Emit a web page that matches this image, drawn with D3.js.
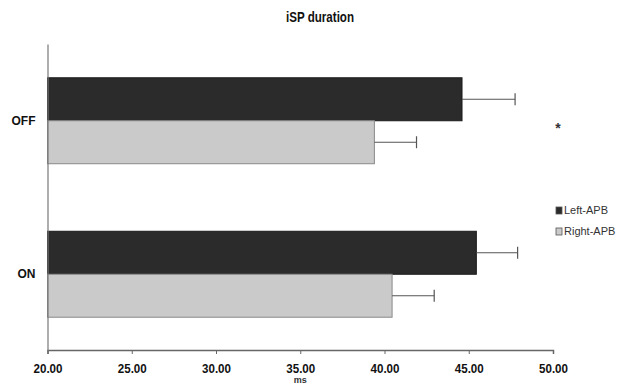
<!DOCTYPE html>
<html>
<head>
<meta charset="utf-8">
<script src="https://cdn.jsdelivr.net/npm/d3@7"></script>
<style>
  body { margin: 0; background: #fff; }
  #chart svg { display: block; }
</style>
</head>
<body>
<div id="chart"></div>
<script>
// data
const conditions = ['OFF', 'ON'];
const seriesNames = ['Left-APB', 'Right-APB'];
const leftMeans = [44.6, 45.45];
const leftErrors = [3.15, 2.45];
const rightMeans = [39.4, 40.45];
const rightErrors = [2.5, 2.5];
const xTicks = [20, 25, 30, 35, 40, 45, 50];

const width = 639;
const height = 384;
const narrow = '"Liberation Sans Narrow", "Arial Narrow", "Liberation Sans", sans-serif';
const colors = { 'Left-APB': '#2b2b2b', 'Right-APB': '#cacaca' };
const strokes = { 'Left-APB': '#1a1a1a', 'Right-APB': '#8a8a8a' };

const rows = [];
conditions.forEach((c, i) => {
    rows.push({ cond: c, series: 'Left-APB', value: leftMeans[i], err: leftErrors[i] });
    rows.push({ cond: c, series: 'Right-APB', value: rightMeans[i], err: rightErrors[i] });
});

const svg = d3.select('#chart')
    .append('svg')
    .attr('width', width)
    .attr('height', height)
    .attr('viewBox', [0, 0, width, height]);

const x = d3.scaleLinear()
    .domain([20, 50])
    .range([47.5, 553]);

const y = d3.scaleBand()
    .domain(conditions)
    .range([44, 351])
    .paddingInner(0.44)
    .paddingOuter(0.22);

const ySub = d3.scaleBand()
    .domain(seriesNames)
    .range([0, y.bandwidth()]);

// title
svg.append('text')
    .text('iSP duration')
    .attr('x', 320)
    .attr('y', 22)
    .attr('text-anchor', 'middle')
    .attr('textLength', 68)
    .attr('lengthAdjust', 'spacingAndGlyphs')
    .style('font-family', narrow)
    .style('font-weight', 'bold')
    .style('font-size', '14px')
    .attr('fill', '#111');

// bars
svg.append('g')
    .selectAll('rect')
    .data(rows)
    .join('rect')
        .attr('x', x(20))
        .attr('y', d => y(d.cond) + ySub(d.series))
        .attr('width', d => x(d.value) - x(20))
        .attr('height', ySub.bandwidth())
        .attr('fill', d => colors[d.series])
        .attr('stroke', d => strokes[d.series])
        .attr('stroke-width', 1);

// error bars
const errG = svg.append('g')
    .attr('stroke', '#555')
    .attr('stroke-width', 1.2);

errG.selectAll('line.err')
    .data(rows)
    .join('line')
        .attr('class', 'err')
        .attr('x1', d => x(d.value))
        .attr('x2', d => x(d.value + d.err))
        .attr('y1', d => y(d.cond) + ySub(d.series) + ySub.bandwidth() / 2)
        .attr('y2', d => y(d.cond) + ySub(d.series) + ySub.bandwidth() / 2);

errG.selectAll('line.cap')
    .data(rows)
    .join('line')
        .attr('class', 'cap')
        .attr('x1', d => x(d.value + d.err))
        .attr('x2', d => x(d.value + d.err))
        .attr('y1', d => y(d.cond) + ySub(d.series) + ySub.bandwidth() / 2 - 6)
        .attr('y2', d => y(d.cond) + ySub(d.series) + ySub.bandwidth() / 2 + 6);

// x axis
const xAxis = svg.append('g')
    .attr('transform', `translate(0, ${y.range()[1] - 1})`)
    .call(d3.axisBottom(x).tickValues(xTicks).tickFormat(d3.format('.2f')).tickSize(4).tickPadding(10));

xAxis.select('.domain').attr('stroke', '#666').attr('stroke-width', 1.5);
xAxis.selectAll('.tick line').attr('stroke', '#666');
xAxis.selectAll('.tick text')
    .attr('textLength', 29)
    .attr('lengthAdjust', 'spacingAndGlyphs')
    .style('font-family', narrow)
    .style('font-weight', 'bold')
    .style('font-size', '12px')
    .attr('fill', '#111');

svg.append('text')
    .text('ms')
    .attr('x', x(35))
    .attr('y', 383)
    .attr('text-anchor', 'middle')
    .style('font-family', narrow)
    .style('font-weight', 'bold')
    .style('font-size', '9px')
    .attr('fill', '#333');

// y axis
const yAxis = svg.append('g')
    .attr('transform', `translate(${x(20)}, 0)`)
    .call(d3.axisLeft(y).tickSize(0).tickPadding(12));

yAxis.select('.domain').attr('stroke', '#777').attr('stroke-width', 1.2);
yAxis.selectAll('.tick text')
    .style('font-family', narrow)
    .style('font-weight', 'bold')
    .style('font-size', '12px')
    .attr('fill', '#111');

// significance mark
svg.append('text')
    .text('*')
    .attr('x', 558)
    .attr('y', 133)
    .attr('text-anchor', 'middle')
    .style('font-family', narrow)
    .style('font-weight', 'bold')
    .style('font-size', '14px')
    .attr('fill', '#333');

// legend
const legend = svg.append('g')
    .attr('transform', 'translate(556, 211)');

const legendItem = legend.selectAll('g')
    .data(seriesNames)
    .join('g')
        .attr('transform', (d, i) => `translate(0, ${i * 21})`);

legendItem.append('rect')
    .attr('x', 0)
    .attr('y', -4)
    .attr('width', 6)
    .attr('height', 7)
    .attr('fill', d => colors[d])
    .attr('stroke', '#555')
    .attr('stroke-width', 0.8);

legendItem.append('text')
    .text(d => d)
    .attr('x', 8)
    .attr('y', 0)
    .attr('dominant-baseline', 'middle')
    .style('font-family', '"Liberation Sans", Arial, sans-serif')
    .style('font-size', '11px')
    .attr('fill', '#333');
</script>
</body>
</html>
